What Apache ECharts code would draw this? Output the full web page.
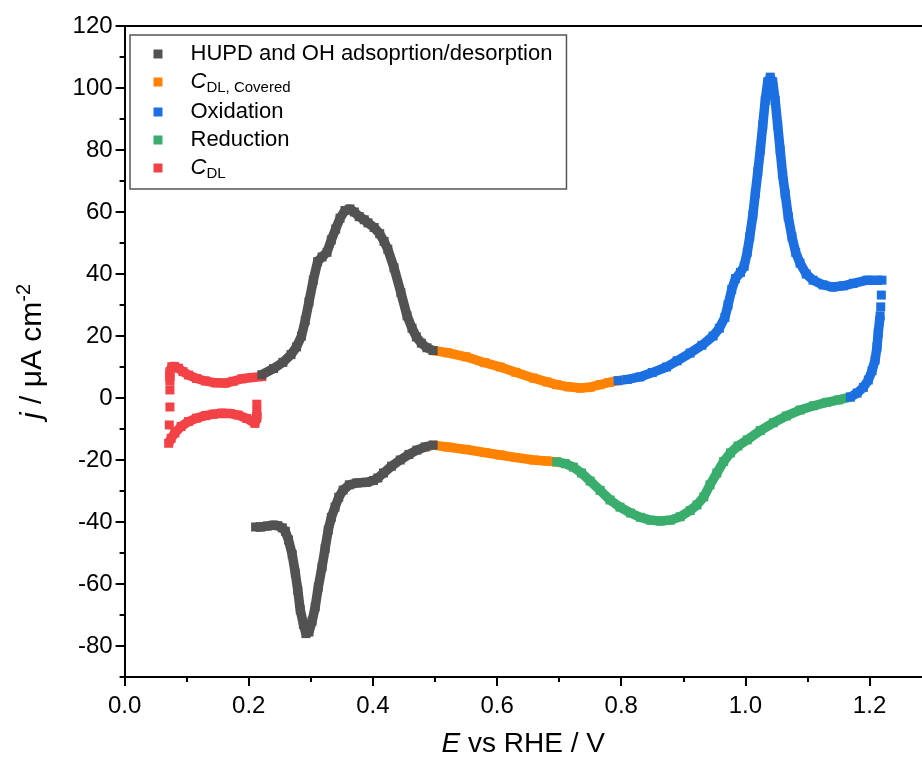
<!DOCTYPE html>
<html>
<head>
<meta charset="utf-8">
<title>CV</title>
<script src="https://cdn.jsdelivr.net/npm/echarts@6/dist/echarts.min.js"></script>
<style>
  html, body { margin: 0; padding: 0; background: #fff; }
  #chart { width: 922px; height: 774px; }
</style>
</head>
<body>
<div id="chart"></div>
<script>
// 各段数据 [E / V, j / uA cm-2]，"-" 表示断开
var hupdData = [
  [0.221, 7.5], [0.240, 9.5], [0.255, 11.5], [0.268, 14], [0.277, 16.5], [0.285, 20], [0.291, 25],
  [0.297, 31], [0.304, 38], [0.311, 44], [0.318, 45.5], [0.326, 47], [0.333, 51], [0.340, 54.5],
  [0.347, 58], [0.355, 60.5], [0.363, 61], [0.370, 60], [0.378, 58.5], [0.386, 57.5], [0.392, 56.5],
  [0.402, 55], [0.411, 53], [0.418, 50.5], [0.424, 48], [0.434, 42], [0.445, 34], [0.455, 26.5],
  [0.463, 22.5], [0.470, 19.7], [0.478, 17.7], [0.487, 16.2], [0.497, 15.3],
  "-",
  [0.497, -15.2], [0.484, -15.8], [0.471, -16.8], [0.458, -18.2], [0.444, -20], [0.430, -22],
  [0.417, -24.2], [0.408, -25.8], [0.401, -26.6], [0.390, -27.2], [0.374, -27.4], [0.362, -28],
  [0.352, -29.7], [0.345, -32], [0.339, -35.2], [0.333, -38.5], [0.328, -42.6], [0.323, -48.5],
  [0.318, -54.5], [0.312, -61], [0.307, -67.4], [0.302, -72], [0.297, -75.5], [0.292, -76],
  [0.288, -73], [0.283, -68.4], [0.279, -62], [0.275, -56.5], [0.270, -50.5], [0.264, -45.8],
  [0.259, -43], [0.254, -41.9], [0.247, -41.2], [0.240, -41], [0.230, -41.3], [0.219, -41.6], [0.211, -41.6]
];
var cdlCoveredData = [
  [0.497, 15.3], [0.520, 14.6], [0.550, 13.3], [0.580, 11.4], [0.605, 10], [0.630, 8.3], [0.659, 6.4],
  [0.680, 5.2], [0.696, 4.3], [0.715, 3.6], [0.734, 3.2], [0.750, 3.5], [0.766, 4.3], [0.780, 5], [0.795, 5.6],
  "-",
  [0.497, -15.2], [0.520, -15.8], [0.550, -16.6], [0.580, -17.6], [0.605, -18.4], [0.630, -19.2],
  [0.659, -20], [0.680, -20.3], [0.696, -20.6]
];
var oxidationData = [
  [0.795, 5.6], [0.810, 6], [0.830, 6.8], [0.850, 8.2], [0.873, 10], [0.890, 12], [0.911, 14.5],
  [0.930, 17], [0.948, 20], [0.958, 22.5], [0.967, 26], [0.972, 30], [0.978, 35], [0.984, 38.5],
  [0.992, 40.5], [0.998, 42.5], [1.003, 47], [1.007, 52], [1.012, 59], [1.016, 66], [1.020, 73],
  [1.024, 80], [1.028, 88], [1.032, 96], [1.036, 102], [1.040, 103.5], [1.044, 102], [1.048, 96],
  [1.052, 88], [1.056, 80], [1.060, 72], [1.064, 66], [1.069, 58.5], [1.075, 52], [1.081, 47],
  [1.088, 43.5], [1.098, 40], [1.109, 38], [1.125, 36.5], [1.141, 35.8], [1.158, 36.2], [1.174, 37],
  [1.196, 38], [1.220, 38],
  "-", [1.219, 33.2], "-", [1.218, 29.4], "-",
  [1.217, 26.5], [1.214, 21], [1.212, 16.5], [1.209, 12.3], [1.204, 8.8], [1.198, 5.8], [1.190, 3.4],
  [1.180, 1.6], [1.169, 0.3]
];
var reductionData = [
  [1.169, 0.3], [1.150, -0.6], [1.131, -1.4], [1.110, -2.5], [1.088, -3.9], [1.066, -5.8], [1.045, -8],
  [1.024, -10.5], [1.003, -13.5], [0.988, -15.5], [0.976, -17.7], [0.965, -20.5], [0.954, -24.2],
  [0.943, -28], [0.933, -31.9], [0.922, -34.5], [0.911, -36.3], [0.895, -38.3], [0.879, -39.4],
  [0.863, -39.7], [0.847, -39.4], [0.831, -38.5], [0.815, -37.1], [0.798, -35.2], [0.782, -32.9],
  [0.766, -29.8], [0.750, -26.8], [0.736, -24.2], [0.723, -22.3], [0.710, -21.2], [0.696, -20.6]
];
var cdlData = [
  [0.221, 6.9], [0.205, 6.6], [0.189, 6.2], [0.175, 5.4], [0.162, 4.8], [0.146, 4.9], [0.130, 5.5],
  [0.116, 6.3], [0.103, 7.4], [0.094, 8.5], [0.087, 9.6], [0.080, 10.2], [0.076, 10.1], [0.073, 8.5],
  [0.073, 5.5],
  "-", [0.073, 2.6], "-", [0.073, -2.9], "-", [0.072, -8.7], "-",
  [0.071, -14.6], [0.075, -13], [0.081, -11.3], [0.091, -9.2], [0.103, -7.6], [0.116, -6.5],
  [0.130, -5.7], [0.143, -5.2], [0.156, -4.9], [0.170, -5], [0.183, -5.5], [0.197, -6.6],
  [0.210, -8.2], [0.213, -6.5], [0.213, -4.4],
  "-", [0.213, -2.0]
];

// 图例名称与颜色
var seriesNames = ["HUPD and OH adsoprtion/desorption", "CDL, Covered", "Oxidation", "Reduction", "CDL"];
var seriesColors = ["#525252", "#ff8300", "#1c6fe0", "#3aad6d", "#f24246"];

// 刻度
var xTickValues = [0, 0.2, 0.4, 0.6, 0.8, 1.0, 1.2];
var xMinorTickValues = [0.1, 0.3, 0.5, 0.7, 0.9, 1.1];
var yTickValues = [-80, -60, -40, -20, 0, 20, 40, 60, 80, 100, 120];
var yMinorTickValues = [-90, -70, -50, -30, -10, 10, 30, 50, 70, 90, 110];

var FONT = "'Liberation Sans', Arial, sans-serif";
var X_MIN = 0, X_MAX = 1.2845, Y_MIN = -90, Y_MAX = 120;

var chart = echarts.init(document.getElementById("chart"), null, { renderer: "canvas" });

function makeSeries(name, data, color) {
  return {
    name: name,
    type: "line",
    data: data,
    showSymbol: true,
    symbol: "rect",
    symbolSize: 9,
    connectNulls: false,
    itemStyle: { color: color },
    lineStyle: { color: color, width: 9.5 },
    emphasis: { disabled: true },
    silent: true,
    z: 3
  };
}

var legendRich = {
  t: { fontSize: 22, fontFamily: FONT, color: "#000", lineHeight: 24, padding: [0, 0, 0, 23] },
  c: { fontSize: 22, fontFamily: FONT, color: "#000", fontStyle: "italic", lineHeight: 26, padding: [0, 0, 0, 23] },
  sub: { fontSize: 15, fontFamily: FONT, color: "#000", verticalAlign: "bottom", lineHeight: 16 }
};

chart.setOption({
  animation: false,
  backgroundColor: "#fff",
  grid: { left: 124.6, right: 0, top: 26, bottom: 97, containLabel: false, outerBoundsMode: "none" },
  legend: {
    orient: "vertical",
    left: 130,
    top: 35,
    padding: [8, 14, 8, 23.5],
    itemGap: 6,
    itemWidth: 9,
    itemHeight: 9,
    icon: "rect",
    borderColor: "#555",
    borderWidth: 1.5,
    backgroundColor: "#fff",
    data: seriesNames,
    selectedMode: false,
    formatter: function (name) {
      if (name === "CDL, Covered") return "{c|C}{sub|DL, Covered}";
      if (name === "CDL") return "{c|C}{sub|DL}";
      return "{t|" + name + "}";
    },
    textStyle: { rich: legendRich }
  },
  xAxis: [
    {
      type: "value", position: "bottom", min: X_MIN, max: X_MAX,
      name: "{i|E} vs RHE / V",
      nameLocation: "middle",
      nameGap: 53,
      nameTextStyle: {
        fontSize: 28, fontFamily: FONT, color: "#000",
        rich: { i: { fontSize: 28, fontFamily: FONT, fontStyle: "italic", color: "#000" } }
      },
      axisLine: { show: true, onZero: false, lineStyle: { color: "#000", width: 2 } },
      axisTick: { show: true, inside: false, length: 9, lineStyle: { color: "#000", width: 2 }, customValues: xTickValues },
      axisLabel: {
        show: true, margin: 17, fontSize: 24, fontFamily: FONT, color: "#000",
        customValues: xTickValues,
        formatter: function (v) { return v.toFixed(1); }
      },
      splitLine: { show: false }
    },
    {
      type: "value", position: "bottom", min: X_MIN, max: X_MAX,
      axisLine: { show: false, onZero: false },
      axisTick: { show: true, inside: false, length: 5, lineStyle: { color: "#000", width: 2 }, customValues: xMinorTickValues },
      axisLabel: { show: false },
      splitLine: { show: false }
    },
    {
      type: "value", position: "top", min: X_MIN, max: X_MAX,
      axisLine: { show: true, onZero: false, lineStyle: { color: "#000", width: 2 } },
      axisTick: { show: false },
      axisLabel: { show: false },
      splitLine: { show: false }
    }
  ],
  yAxis: [
    {
      type: "value", position: "left", min: Y_MIN, max: Y_MAX,
      name: "{i|j} / μA cm{sup|-2}",
      nameLocation: "middle",
      nameGap: 74,
      nameTextStyle: {
        fontSize: 30, fontFamily: FONT, color: "#000", lineHeight: 36,
        rich: {
          i: { fontSize: 30, fontFamily: FONT, fontStyle: "italic", color: "#000", lineHeight: 36 },
          sup: { fontSize: 20, fontFamily: FONT, color: "#000", verticalAlign: "top", lineHeight: 20 }
        }
      },
      axisLine: { show: true, onZero: false, lineStyle: { color: "#000", width: 2 } },
      axisTick: { show: true, inside: false, length: 9, lineStyle: { color: "#000", width: 2 }, customValues: yTickValues },
      axisLabel: {
        show: true, margin: 12, fontSize: 24, fontFamily: FONT, color: "#000",
        customValues: yTickValues
      },
      splitLine: { show: false }
    },
    {
      type: "value", position: "left", min: Y_MIN, max: Y_MAX,
      axisLine: { show: false, onZero: false },
      axisTick: { show: true, inside: false, length: 5, lineStyle: { color: "#000", width: 2 }, customValues: yMinorTickValues },
      axisLabel: { show: false },
      splitLine: { show: false }
    }
  ],
  series: [
    makeSeries(seriesNames[4], cdlData, seriesColors[4]),
    makeSeries(seriesNames[1], cdlCoveredData, seriesColors[1]),
    makeSeries(seriesNames[3], reductionData, seriesColors[3]),
    makeSeries(seriesNames[2], oxidationData, seriesColors[2]),
    makeSeries(seriesNames[0], hupdData, seriesColors[0])
  ]
});
</script>
</body>
</html>
